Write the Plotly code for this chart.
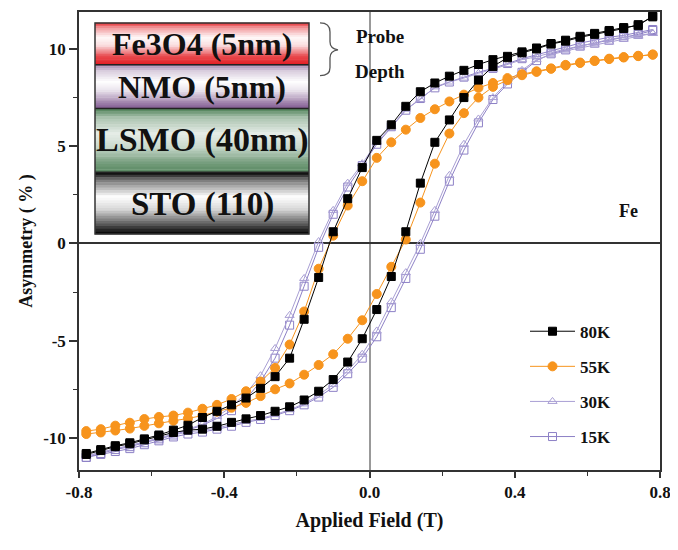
import plotly.graph_objects as go

# ---------------- data ----------------
field = [-0.78, -0.74, -0.70, -0.66, -0.62, -0.58, -0.54, -0.50, -0.46, -0.42,
         -0.38, -0.34, -0.30, -0.26, -0.22, -0.18, -0.14, -0.10, -0.06, -0.02,
         0.02, 0.06, 0.10, 0.14, 0.18, 0.22, 0.26, 0.30, 0.34, 0.38,
         0.42, 0.46, 0.50, 0.54, 0.58, 0.62, 0.66, 0.70, 0.74, 0.78]

# descending branches listed from +0.78 T down to -0.78 T
k80_down = [11.7, 11.2, 11.1, 10.95, 10.8, 10.65, 10.45, 10.28, 10.05, 9.85,
            9.62, 9.45, 9.2, 8.9, 8.6, 8.25, 7.8, 7.05, 6.1, 5.3,
            3.9, 2.3, 0.6, -1.75, -3.9, -5.9, -6.85, -7.45, -7.95, -8.3,
            -8.63, -8.95, -9.35, -9.6, -9.85, -10.05, -10.25, -10.4, -10.6, -10.8]
# ascending branches listed from -0.78 T up to +0.78 T
k80_up = [-10.85, -10.65, -10.45, -10.3, -10.1, -9.9, -9.72, -9.6, -9.55, -9.4,
          -9.2, -9.02, -8.85, -8.63, -8.4, -8.05, -7.6, -7.0, -6.1, -4.9,
          -3.4, -1.7, 0.6, 3.1, 5.2, 6.35, 7.5, 8.4, 9.1, 9.55,
          9.8, 10.0, 10.25, 10.4, 10.6, 10.75, 10.9, 11.05, 11.25, 11.65]

k55_down = [9.7, 9.65, 9.58, 9.5, 9.4, 9.3, 9.18, 9.0, 8.85, 8.7,
            8.5, 8.25, 8.0, 7.65, 7.3, 6.9, 6.45, 5.85, 5.2, 4.4,
            3.2, 1.95, 0.4, -1.3, -3.5, -5.2, -6.4, -7.1, -7.6, -8.0,
            -8.3, -8.5, -8.7, -8.85, -8.92, -9.03, -9.22, -9.37, -9.55, -9.65]
k55_up = [-9.8, -9.72, -9.62, -9.52, -9.38, -9.25, -9.12, -9.0, -8.85, -8.65,
          -8.45, -8.2, -7.85, -7.5, -7.2, -6.75, -6.25, -5.7, -4.9, -3.95,
          -2.6, -1.2, 0.2, 2.1, 4.1, 5.65, 6.7, 7.5, 8.05, 8.4,
          8.65, 8.82, 8.98, 9.15, 9.28, 9.38, 9.48, 9.56, 9.63, 9.72]

k30_down = [10.8, 10.7, 10.6, 10.5, 10.3, 10.15, 10.0, 9.8, 9.6, 9.45,
            9.2, 8.95, 8.75, 8.5, 8.3, 8.05, 7.4, 6.9, 6.0, 5.2,
            4.1, 3.1, 1.7, 0.1, -1.8, -3.7, -5.4, -6.8, -7.7, -8.4,
            -8.9, -9.3, -9.55, -9.8, -10.0, -10.2, -10.4, -10.55, -10.75, -10.95]
k30_up = [-10.9, -10.75, -10.55, -10.4, -10.2, -10.05, -9.85, -9.7, -9.6, -9.5,
          -9.3, -9.15, -9.0, -8.8, -8.55, -8.25, -7.8, -7.25, -6.55, -5.7,
          -4.5, -3.0, -1.5, 0.0, 1.7, 3.5, 5.1, 6.4, 7.5, 8.3,
          8.9, 9.45, 9.7, 9.9, 10.05, 10.2, 10.35, 10.5, 10.65, 10.8]

k15_down = [11.0, 10.85, 10.7, 10.6, 10.45, 10.3, 10.1, 9.9, 9.7, 9.5,
            9.25, 9.0, 8.8, 8.55, 8.3, 8.0, 7.45, 6.85, 6.0, 5.1,
            4.0, 2.9, 1.5, -0.2, -2.2, -4.2, -5.9, -7.1, -8.0, -8.6,
            -9.0, -9.35, -9.6, -9.85, -10.05, -10.25, -10.45, -10.6, -10.8, -11.0]
k15_up = [-11.0, -10.85, -10.7, -10.55, -10.35, -10.15, -9.95, -9.8, -9.7, -9.55,
          -9.4, -9.2, -9.05, -8.85, -8.6, -8.3, -7.9, -7.4, -6.7, -5.9,
          -4.8, -3.3, -1.8, -0.3, 1.4, 3.2, 4.8, 6.2, 7.4, 8.2,
          8.8, 9.4, 9.75, 9.95, 10.15, 10.3, 10.45, 10.6, 10.75, 10.95]

series_names = ["15K", "30K", "55K", "80K"]
legend_rank = {"80K": 1, "55K": 2, "30K": 3, "15K": 4}
x_ticks = [-0.8, -0.4, 0.0, 0.4, 0.8]
x_tick_text = ["-0.8", "-0.4", "0.0", "0.4", "0.8"]
y_ticks = [-10, -5, 0, 5, 10]
y_tick_text = ["-10", "-5", "0", "5", "10"]
layer_labels = ["Fe3O4 (5nm)", "NMO (5nm)", "LSMO (40nm)", "STO (110)"]

# ---------------- figure ----------------
FONT = "Liberation Serif"
loops = {
    "15K": (k15_down, k15_up),
    "30K": (k30_down, k30_up),
    "55K": (k55_down, k55_up),
    "80K": (k80_down, k80_up),
}
styles = {
    "15K": dict(symbol="square-open", size=8, color="#8d80c6", lw=1),
    "30K": dict(symbol="triangle-up-open", size=8, color="#a99fd4", lw=1),
    "55K": dict(symbol="circle", size=9, color="#f7941d", lw=1),
    "80K": dict(symbol="square", size=8, color="#000000", lw=1),
}

fig = go.Figure()
for name in series_names:
    down, up = loops[name]
    xs = field[::-1] + field
    ys = down + up
    st = styles[name]
    fig.add_trace(go.Scatter(
        x=xs, y=ys, mode="lines+markers", name=name, legendgroup=name,
        legendrank=legend_rank[name],
        line=dict(color=st["color"], width=st["lw"]),
        marker=dict(symbol=st["symbol"], size=st["size"], color=st["color"],
                    line=dict(width=1, color=st["color"])),
    ))

# page geometry: plot area spans x 79..660, y 10..470 on the page
PX0, PX1, PY0, PY1 = 79.0, 660.0, 10.0, 470.0


def px(x):
    return (x - PX0) / (PX1 - PX0)


def py(y):
    return (PY1 - y) / (PY1 - PY0)


# ---------------- inset layer stack (paper coords) ----------------
X0, X1 = px(95), px(309)
bounds = [py(21), py(63), py(107), py(171), py(233)]
bases = [(227, 30, 36), (107, 61, 125), (47, 107, 58), (0, 0, 0)]
profiles = [
    ([0, 0.12, 0.35, 0.55, 0.8, 1.0], [0.05, 0.55, 0.97, 0.85, 0.2, 0.0]),
    ([0, 0.15, 0.4, 0.6, 0.85, 1.0], [0.35, 0.75, 1.0, 0.85, 0.4, 0.15]),
    ([0, 0.15, 0.4, 0.6, 0.85, 1.0], [0.15, 0.6, 0.88, 0.75, 0.35, 0.2]),
    ([0, 0.12, 0.4, 0.6, 0.85, 1.0], [0.0, 0.45, 1.0, 0.85, 0.35, 0.0]),
]


def interp(t, ts, ws):
    for i in range(len(ts) - 1):
        if ts[i] <= t <= ts[i + 1]:
            f = (t - ts[i]) / (ts[i + 1] - ts[i])
            return ws[i] + f * (ws[i + 1] - ws[i])
    return ws[-1]


shapes = []
N = 24
for li in range(4):
    top, bot = bounds[li], bounds[li + 1]
    ts, ws = profiles[li]
    r, g, b = bases[li]
    for k in range(N):
        t = (k + 0.5) / N
        w = interp(t, ts, ws)
        col = "rgb(%d,%d,%d)" % (r + (255 - r) * w, g + (255 - g) * w, b + (255 - b) * w)
        y_a = top - (top - bot) * k / N
        y_b = top - (top - bot) * (k + 1) / N
        shapes.append(dict(type="rect", xref="paper", yref="paper", x0=X0, x1=X1,
                           y0=y_b - 0.0005, y1=y_a + 0.0005, fillcolor=col,
                           line=dict(width=0), layer="below"))
for yb in bounds[1:-1]:
    shapes.append(dict(type="line", xref="paper", yref="paper", x0=X0, x1=X1,
                       y0=yb, y1=yb, line=dict(color="#222", width=1.5), layer="below"))
shapes.append(dict(type="rect", xref="paper", yref="paper", x0=X0, x1=X1,
                   y0=bounds[-1], y1=bounds[0], line=dict(color="#333", width=1.5),
                   fillcolor="rgba(0,0,0,0)", layer="below"))


def P(a, b):
    return "%.4f,%.4f" % (px(a), py(b))


brace = ("M " + P(320, 21) + " Q " + P(330, 21) + " " + P(330, 30) + " L " + P(330, 40)
         + " Q " + P(330, 47) + " " + P(338, 48) + " Q " + P(330, 49) + " " + P(330, 56)
         + " L " + P(330, 66) + " Q " + P(330, 74) + " " + P(320, 74))
shapes.append(dict(type="path", xref="paper", yref="paper", path=brace,
                   line=dict(color="#555", width=1.3)))

annotations = []
label_pos = [(42, 32), (85, 32), (139, 34), (203, 33)]
for txt, (yy, fs) in zip(layer_labels, label_pos):
    annotations.append(dict(text=txt, x=(X0 + X1) / 2, y=py(yy), xref="paper", yref="paper",
                            xanchor="center", yanchor="middle", showarrow=False,
                            font=dict(family=FONT, size=fs, color="#111", weight="bold")))
annotations += [
    dict(text="Probe", x=px(380), y=py(35), xref="paper", yref="paper", showarrow=False,
         xanchor="center", yanchor="middle",
         font=dict(family=FONT, size=19, color="#111", weight="bold")),
    dict(text="Depth", x=px(380), y=py(70), xref="paper", yref="paper", showarrow=False,
         xanchor="center", yanchor="middle",
         font=dict(family=FONT, size=19, color="#111", weight="bold")),
    dict(text="Fe", x=px(628), y=py(210), xref="paper", yref="paper", showarrow=False,
         xanchor="center", yanchor="middle",
         font=dict(family=FONT, size=18, color="#111", weight="bold")),
]

# the page body adds an 8 px offset; size the figure so the plot lands where the reference has it
fig.update_layout(
    width=670, height=534,
    margin=dict(l=71, r=18, t=2, b=72),
    plot_bgcolor="white", paper_bgcolor="white",
    font=dict(family=FONT, size=17, color="#111", weight="bold"),
    shapes=shapes, annotations=annotations,
    legend=dict(x=px(525), y=py(313), xanchor="left", yanchor="top",
                bgcolor="rgba(0,0,0,0)", traceorder="grouped",
                tracegroupgap=10, font=dict(family=FONT, size=17, weight="bold"),
                itemwidth=45),
    showlegend=True,
)
fig.update_xaxes(
    range=[-0.8, 0.8], tickvals=x_ticks, ticktext=x_tick_text,
    ticks="outside", ticklen=6, tickwidth=1.5, tickcolor="#333",
    minor=dict(ticks="outside", ticklen=4, tickwidth=1, tickcolor="#333", dtick=0.2, tick0=-0.8),
    showline=True, linecolor="#333", linewidth=1.5, mirror=True, showgrid=False,
    zeroline=True, zerolinecolor="#999", zerolinewidth=2,
    title=dict(text="Applied Field (T)", standoff=12),
)
fig.update_yaxes(
    range=[-11.65, 11.9], tickvals=y_ticks, ticktext=y_tick_text,
    ticks="outside", ticklen=8, tickwidth=1.5, tickcolor="#333",
    minor=dict(ticks="outside", ticklen=4, tickwidth=1, tickcolor="#333", dtick=2.5, tick0=0),
    showline=True, linecolor="#333", linewidth=1.5, mirror=True, showgrid=False,
    zeroline=True, zerolinecolor="#333", zerolinewidth=1.5,
    title=dict(text="Asymmetry ( % )", standoff=6, font=dict(size=18)),
)

fig.write_html("out.html")
